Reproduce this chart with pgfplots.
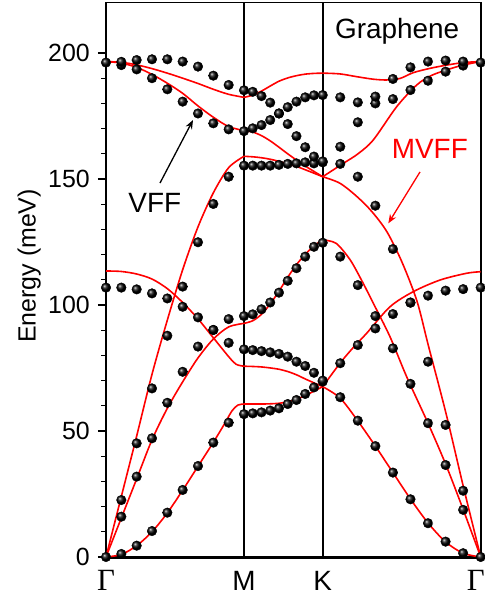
\documentclass[border=0pt]{standalone}
\usepackage{fontspec}
\setmainfont{Liberation Sans}
\newfontfamily\serifgr{Liberation Serif}
\usepackage{pgfplots}
\pgfplotsset{compat=1.18}
\usetikzlibrary{arrows.meta}
\definecolor{mred}{RGB}{255,0,0}
\pgfplotsset{
  vff/.style={only marks, mark=ball, mark size=4.8bp, ball color=black},
  mvff/.style={mred, line width=1.6bp, smooth, no marks},
}
\begin{document}
\begin{tikzpicture}
\begin{axis}[
  scale only axis, width=374.7bp, height=554.4bp,
  xmin=0, xmax=374.7, ymin=0, ymax=220,
  clip=false,
  axis line style={line width=1.6bp},
  xtick={0,138,216.7,374.7},
  xticklabels={{\fontsize{31}{31}\selectfont\serifgr Γ},M,K,{\fontsize{31}{31}\selectfont\serifgr\hbox to 0pt{\hss Γ\kern-4bp}}},
  xtick style={draw=none},
  xticklabel style={anchor=base, yshift=-25.5bp, font=\fontsize{28}{28}\selectfont},
  ytick={0,50,100,150,200},
  minor y tick num=4,
  ytick pos=left,
  ytick style={line width=1.2bp, black},
  tick align=outside,
  major tick length=8bp, minor tick length=4.5bp,
  yticklabel style={font=\fontsize{25}{25}\selectfont, inner sep=0pt, xshift=-8bp},
  /pgf/number format/assume math mode=true,
  ylabel={Energy (meV)},
  every axis y label/.style={at={(axis description cs:-0.205,0.525)}, rotate=90, anchor=center, font=\fontsize{25}{25}\selectfont},
]
\coordinate (ll) at (rel axis cs:0,0);
\draw[line width=3bp] (rel axis cs:0,0) -- (rel axis cs:1,0);
\draw[line width=1.8bp] (axis cs:138,0) -- (axis cs:138,220);
\draw[line width=1.8bp] (axis cs:216.7,0) -- (axis cs:216.7,220);

% ---- MVFF (red curves) ----
% Gamma - M
\addplot[mvff] coordinates {(0,0)(15.33,1)(30.67,4.5)(46,10)(61.33,17.5)(76.67,26.5)(92,36)(107.33,45.5)(118,52.5)(126,58)(132,60.3)(138,60.7)};
\addplot[mvff] coordinates {(0,0)(15.33,15.5)(30.67,31)(46,46.5)(61.33,59)(76.67,69.5)(92,79)(107.33,86.5)(122.67,91.3)(138,92.7)};
\addplot[mvff] coordinates {(0,0)(15.33,24)(30.67,48)(46,72.5)(61.33,94)(76.67,114)(92,131)(107.33,144.5)(122.67,154.5)(138,159)};
\addplot[mvff] coordinates {(0,113.5)(15.33,113.3)(30.67,112.3)(46,110.3)(61.33,106.5)(76.67,101)(92,94.5)(107.33,87)(122.67,79.5)(130,76.5)(138,75.7)};
\addplot[mvff] coordinates {(0,196.6)(15.33,196.3)(30.67,195.3)(46,193.8)(61.33,192)(76.67,190)(92,187.9)(107.33,185.6)(122.67,183.6)(138,182.4)};
\addplot[mvff] coordinates {(0,196.6)(15.33,196)(30.67,194.3)(46,191.5)(61.33,188)(76.67,184)(92,179)(107.33,174.5)(122.67,170.8)(138,169.2)};
% M - K
\addplot[mvff] coordinates {(138,60.7)(147,60.7)(156,60.7)(164.7,60.8)(173,61)(181.7,61.6)(190.5,62.6)(199,64)(208,65.8)(216.7,67.6)};
\addplot[mvff] coordinates {(138,75.7)(147,75.6)(156,75.4)(164.7,75)(173,74.5)(181.7,73.6)(190.5,72.3)(199,70.7)(208,69.1)(216.7,67.6)};
\addplot[mvff] coordinates {(138,92.7)(147,93.8)(156,96.5)(164.7,100.7)(173,105.5)(181.7,111)(190.5,116)(199,120)(208,123.5)(216.7,125.8)};
\addplot[mvff] coordinates {(138,159)(147,158.8)(156,158.4)(164.7,157.8)(173,157)(181.7,156)(190.5,155)(199,153.7)(208,152.3)(216.7,150.9)};
\addplot[mvff] coordinates {(138,169.2)(147,168.6)(156,167.1)(164.7,165)(173,162.6)(181.7,160)(190.5,157.5)(199,155.2)(208,153)(216.7,150.9)};
\addplot[mvff] coordinates {(138,182.4)(147,183.3)(156,185)(164.7,187)(173,188.8)(181.7,190.1)(190.5,191)(199,191.6)(208,191.9)(216.7,192)};
% K - Gamma
\addplot[mvff] coordinates {(216.7,67.6)(234.26,63)(251.81,54)(269.37,44)(286.92,33.5)(304.48,23)(322.03,13.5)(339.59,6)(357.14,1.5)(374.7,0)};
\addplot[mvff] coordinates {(216.7,67.6)(234,76.9)(247,83)(260.7,88.8)(284,99.3)(307.3,105.3)(334,109.9)(360.7,112.6)(374.7,113.2)};
\addplot[mvff] coordinates {(216.7,125.8)(230,124.5)(244,118)(256,109.5)(267.3,100.7)(284,87.4)(300.7,71.5)(322,53.1)(340,36.5)(357.3,18.7)(374.7,0)};
\addplot[mvff] coordinates {(216.7,150.9)(234,148.3)(251,143)(266,137)(281,129)(296,117)(311,101.5)(322.3,84)(340,57)(357.3,28)(374.7,0)};
\addplot[mvff] coordinates {(216.7,150.9)(237.3,156.2)(252,160)(267.3,165.5)(290.7,178.7)(310.7,187.3)(325,191)(340.7,193.3)(357,195.2)(374.7,196.6)};
\addplot[mvff] coordinates {(216.7,192)(234,191.7)(250.7,190.6)(267.3,189.6)(280.7,189.3)(294,189.9)(307.3,192.2)(324,193.9)(340.7,195.2)(357.3,196.2)(374.7,196.6)};

% ---- VFF (black dots) ----
\addplot[vff] coordinates {(0,0)(15.33,1.2)(30.67,4.5)(46,10.3)(61.33,17.6)(76.67,26.6)(92,36.1)(107.33,45.4)(122.67,53.3)(138,56.7)
 (146.74,57)(155.49,57.4)(164.23,58.1)(172.98,59)(181.72,60.7)(190.47,62.3)(199.21,64.7)(207.96,67.3)(216.7,69.6)
 (234.26,63.4)(251.81,54.1)(269.37,44)(286.92,33.5)(304.48,22.9)(322.03,13.4)(339.59,6.1)(357.14,1.5)(374.7,0)};
\addplot[vff] coordinates {(15.33,16)(30.67,31.9)(46,47.1)(61.33,61.2)(76.67,73.5)(92,83.5)(107.33,90.1)(122.67,94.4)(138,95.6)
 (146.74,96.3)(155.49,98.3)(164.23,101)(172.98,104.9)(181.72,109.6)(190.47,114.6)(199.21,119.2)(207.96,123.1)(216.7,124.7)
 (234.26,119.2)(251.81,107.9)(269.37,95.6)(286.92,82.8)(304.48,68.7)(322.03,53.1)(339.59,36.5)(357.14,18.7)};
\addplot[vff] coordinates {(0,106.9)(15.33,106.9)(30.67,106.2)(46,104.6)(61.33,102.6)(76.67,99.3)(92,95.1)(107.33,90.1)(122.67,85)(138,82.4)
 (146.74,82.1)(155.49,81.7)(164.23,81.2)(172.98,80.6)(181.72,79.5)(190.47,77.5)(199.21,75.8)(207.96,73.1)(216.7,70)
 (234.26,76.9)(251.81,84.1)(269.37,90.7)(286.92,96.4)(304.48,100.9)(322.03,103.7)(339.59,105.7)(357.14,106.3)(374.7,106.9)};
\addplot[vff] coordinates {(15.33,22.6)(30.67,45.1)(46,66.9)(61.33,87.8)(76.67,107.3)(92,124.9)(107.33,140.1)(122.67,150.9)(138,155.3)
 (146.74,155.3)(155.49,155.3)(164.23,155.3)(172.98,155.6)(181.72,156)(190.47,156.2)(199.21,156.6)(207.96,156.2)(216.7,156.6)
 (234.26,156)(251.81,150.9)(269.37,139.4)(286.92,122.2)(304.48,101)(322.03,77.5)(339.59,52.4)(357.14,26.3)};
\addplot[vff] coordinates {(0,196.2)(15.33,195.2)(30.67,193.5)(46,190)(61.33,185.6)(76.67,180.7)(92,176)(107.33,172.1)(122.67,169.7)(138,169)
 (146.74,170.1)(155.49,171.4)(164.23,173.4)(172.98,176)(181.72,178.5)(190.47,180.7)(199.21,182.4)(207.96,183.2)(216.7,183.3)
 (234.26,182.4)(251.81,180.4)(269.37,180)(286.92,181.7)(304.48,185.3)(322.03,189)(339.59,192.6)(357.14,195)(374.7,196.2)};
\addplot[vff] coordinates {(15.33,196.5)(30.67,197.2)(46,197.5)(61.33,197.5)(76.67,196.6)(92,194.6)(107.33,191)(122.67,187.3)(138,185.2)
 (146.74,184.6)(155.49,182.9)(164.23,180.3)(172.98,176)(181.72,171.8)(190.47,167)(199.21,162.6)(207.96,158.9)(216.7,157)
 (234.26,162.8)(251.81,172.5)(269.37,182.7)(286.92,189.7)(304.48,194.3)(322.03,196.6)(339.59,197)(357.14,196.6)};

% ---- annotations ----
\node[anchor=base west, inner sep=0pt, font=\fontsize{28}{28}\selectfont] at (axis cs:229,205.6) {Graphene};
\node[anchor=base west, inner sep=0pt, font=\fontsize{28}{28}\selectfont] at (axis cs:22.3,136.6) {VFF};
\node[anchor=base west, inner sep=0pt, text=mred, font=\fontsize{28}{28}\selectfont] at (axis cs:285.7,158.2) {MVFF};
\draw[-{Stealth[length=9bp,width=7bp]}, line width=1.3bp] (axis cs:54,148.4) -- (axis cs:87,173.4);
\draw[mred, -{Stealth[length=9bp,width=7bp]}, line width=1.3bp] (axis cs:314,152.8) -- (axis cs:282.3,132.4);
\end{axis}
\pgfresetboundingbox
\path (ll) ++(-106bp,-40bp) rectangle ++(485bp,597bp);
\end{tikzpicture}
\end{document}
